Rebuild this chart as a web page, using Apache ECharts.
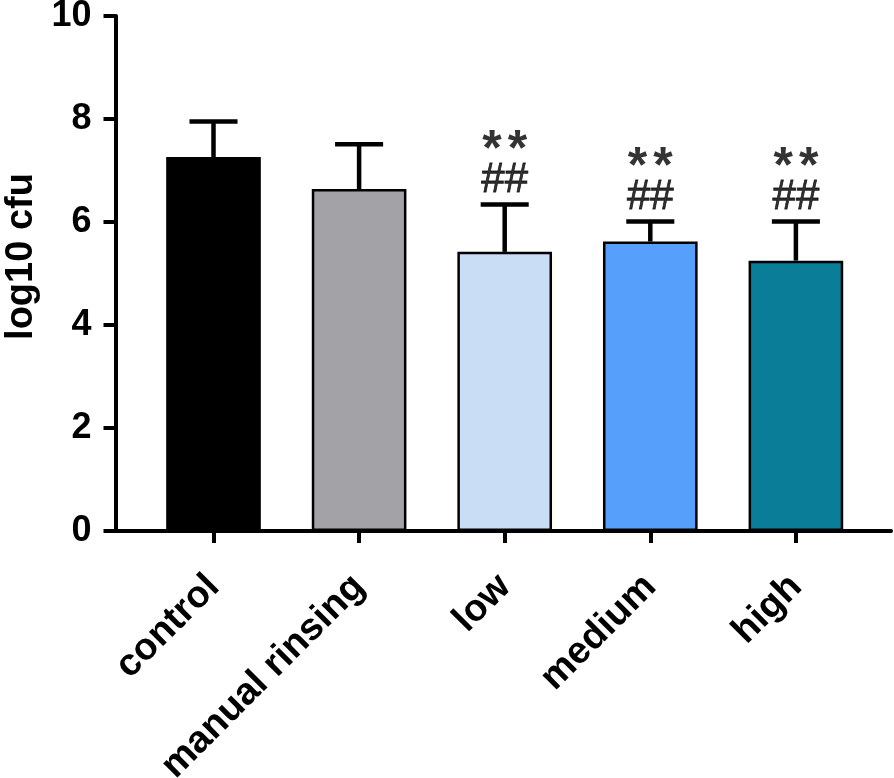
<!DOCTYPE html>
<html>
<head>
<meta charset="utf-8">
<script src="https://cdn.jsdelivr.net/npm/echarts@6/dist/echarts.min.js"></script>
<style>
html,body{margin:0;padding:0;background:#fff;}
#chart{width:894px;height:778px;}
</style>
</head>
<body>
<div id="chart"></div>
<script>
// ---- data ----
var categories = ['control', 'manual rinsing', 'low', 'medium', 'high'];
var means = [7.26, 6.64, 5.42, 5.62, 5.25];
var sds = [0.69, 0.87, 0.92, 0.39, 0.76];
var sigStars = ['', '', '**', '**', '**'];
var sigHash = ['', '', '##', '##', '##'];
var yTicks = [0, 2, 4, 6, 8, 10];
var barColors = ['#000000', '#a3a2a7', '#c9ddf5', '#56a0fb', '#0a7e98'];

var FONT = '"Liberation Sans", Arial, Helvetica, sans-serif';

var chart = echarts.init(document.getElementById('chart'), null, {renderer: 'canvas'});

var barData = means.map(function (v, i) {
  return {value: v, itemStyle: {color: barColors[i]}};
});
var errData = means.map(function (v, i) { return [i, v, v + sds[i]]; });
var sigData = [];
for (var i = 0; i < categories.length; i++) {
  if (sigStars[i] || sigHash[i]) {
    sigData.push({value: [i, means[i] + sds[i]], stars: sigStars[i], hash: sigHash[i]});
  }
}

var option = {
  animation: false,
  backgroundColor: '#ffffff',
  grid: [
    {left: 140.7, right: 25.3, top: 16, bottom: 247, containLabel: false, outerBoundsMode: 'none'},
    {left: 115.5, right: 3, top: 16, bottom: 247, containLabel: false, outerBoundsMode: 'none'}
  ],
  xAxis: [
    {
      type: 'category',
      gridIndex: 0,
      data: categories,
      boundaryGap: true,
      axisLine: {show: true, lineStyle: {color: '#000', width: 4}},
      axisTick: {show: true, alignWithLabel: true, length: 12, lineStyle: {color: '#000', width: 4}},
      axisLabel: {
        show: true, rotate: 45, interval: 0, margin: 50,
        color: '#000', fontSize: 38, fontWeight: 'bold', fontFamily: FONT
      },
      splitLine: {show: false}
    },
    {
      type: 'value',
      gridIndex: 1,
      min: 0, max: 1,
      axisLine: {show: true, lineStyle: {color: '#000', width: 4}},
      axisTick: {show: false},
      axisLabel: {show: false},
      splitLine: {show: false}
    }
  ],
  yAxis: [
    {
      type: 'value',
      gridIndex: 0,
      min: 0, max: 10, interval: 2,
      offset: 25.2,
      name: 'log10 cfu',
      nameLocation: 'middle',
      nameGap: 75,
      nameTextStyle: {color: '#000', fontSize: 38, fontWeight: 'bold', fontFamily: FONT, padding: [0, 0, 0, 34]},
      axisLine: {show: true, lineStyle: {color: '#000', width: 4}},
      axisTick: {show: true, length: 12, lineStyle: {color: '#000', width: 4}},
      axisLabel: {
        margin: 24, color: '#000', fontSize: 36, fontWeight: 'bold', fontFamily: FONT,
        customValues: yTicks
      },
      splitLine: {show: false}
    },
    {
      type: 'value', gridIndex: 1, min: 0, max: 10, show: false
    }
  ],
  series: [
    {
      type: 'bar',
      xAxisIndex: 0, yAxisIndex: 0,
      data: barData,
      barWidth: '65%',
      itemStyle: {borderColor: '#000', borderWidth: 2.5},
      z: 2
    },
    {
      type: 'custom',
      xAxisIndex: 0, yAxisIndex: 0,
      data: errData,
      z: 3,
      renderItem: function (params, api) {
        var x = api.value(0);
        var base = api.coord([x, api.value(1)]);
        var top = api.coord([x, api.value(2)]);
        var band = api.size([1, 0])[0];
        var half = band * 0.165;
        var style = {stroke: '#000', lineWidth: 4.5, fill: null};
        return {
          type: 'group',
          children: [
            {type: 'line', shape: {x1: base[0], y1: base[1], x2: top[0], y2: top[1]}, style: style},
            {type: 'line', shape: {x1: top[0] - half, y1: top[1], x2: top[0] + half, y2: top[1]}, style: style}
          ]
        };
      }
    },
    {
      type: 'scatter',
      xAxisIndex: 0, yAxisIndex: 0,
      data: sigData,
      symbolSize: 0,
      silent: true,
      z: 4,
      label: {
        show: true,
        position: 'top',
        distance: 9,
        formatter: function (p) {
          return '{s|*}{t|*}\n{h|' + p.data.hash + '}';
        },
        rich: {
          s: {fontSize: 50, fontWeight: 'bold', color: '#000', fontFamily: FONT, lineHeight: 28},
          t: {fontSize: 50, fontWeight: 'bold', color: '#000', fontFamily: FONT, lineHeight: 28, padding: [0, 0, 0, 6]},
          h: {fontSize: 42, fontWeight: 'normal', color: '#000', fontFamily: FONT, lineHeight: 30,
              textBorderColor: '#000', textBorderWidth: 0.8}
        }
      }
    }
  ]
};
chart.setOption(option);
</script>
</body>
</html>
